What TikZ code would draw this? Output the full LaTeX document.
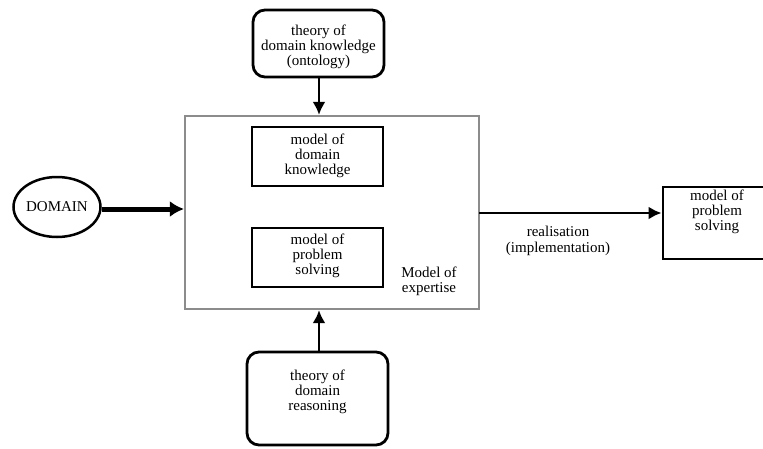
\documentclass[tikz,border=0pt]{standalone}
\usepackage{fontspec}
\setmainfont{Liberation Serif}
\usetikzlibrary{arrows.meta}
\begin{document}
\begin{tikzpicture}[x=1pt,y=-1pt,
  txt/.style={align=center,font=\fontsize{15}{15.3}\selectfont,inner sep=0pt},
  blackbox/.style={draw=black,line width=2.8pt,inner sep=0pt},
  roundbox/.style={blackbox,rounded corners=12pt},
  arr/.style={line width=2.8pt,-{Latex[length=13pt,width=13pt]}},
  thickarr/.style={line width=5pt,-{Latex[length=14pt,width=16pt]}}]
\useasboundingbox (0,0) rectangle (763,448);
% big box
\node[draw=black!45,line width=2.2pt,minimum width=294pt,minimum height=193pt,inner sep=0pt] (exp) at (332,212.5) {};
% inner boxes
\node[blackbox,minimum width=131pt,minimum height=59pt] (mdk) at (317.5,156.5) {};
\node[txt] (mdkt) at (317.5,156) {model of\\domain\\knowledge};
\node[blackbox,minimum width=131pt,minimum height=59pt] (mps) at (317.5,257.5) {};
\node[txt] (mpst) at (317.5,256) {model of\\problem\\solving};
\node[txt] (expt) at (429,281) {Model of\\expertise};
% top theory box
\node[roundbox,minimum width=131pt,minimum height=67pt] (tdk) at (318.5,43.5) {};
\node[txt] (tdkt) at (318.5,47) {theory of\\domain knowledge\\(ontology)};
% bottom theory box
\node[roundbox,minimum width=141pt,minimum height=93pt] (tdr) at (317.5,398.5) {};
\node[txt] (tdrt) at (317.5,392) {theory of\\domain\\reasoning};
% domain ellipse
\draw[line width=2.5pt] (57,207) ellipse (43.5pt and 30pt);
\coordinate (dom) at (102,209);
\node[txt] (domt) at (57,207) {DOMAIN};
% right box
\node[blackbox,minimum width=112pt,minimum height=72pt] (rps) at (719,223) {};
\node[txt] (rpst) at (717,212) {model of\\problem\\solving};
% connectors
\draw[thickarr] (dom) -- (exp.west |- dom);
\coordinate (tdkb) at (319,77);
\draw[arr] (tdkb) -- (tdkb |- exp.north);
\coordinate (tdrt2) at (319,352);
\draw[arr] (tdrt2) -- (tdrt2 |- exp.south);
\coordinate (realsrc) at (479,213);
\draw[arr] (realsrc) -- (rps.west |- realsrc);
\node[txt,font=\fontsize{15}{16.5}\selectfont] (real) at (558,241) {realisation\\(implementation)};
\end{tikzpicture}
\end{document}
